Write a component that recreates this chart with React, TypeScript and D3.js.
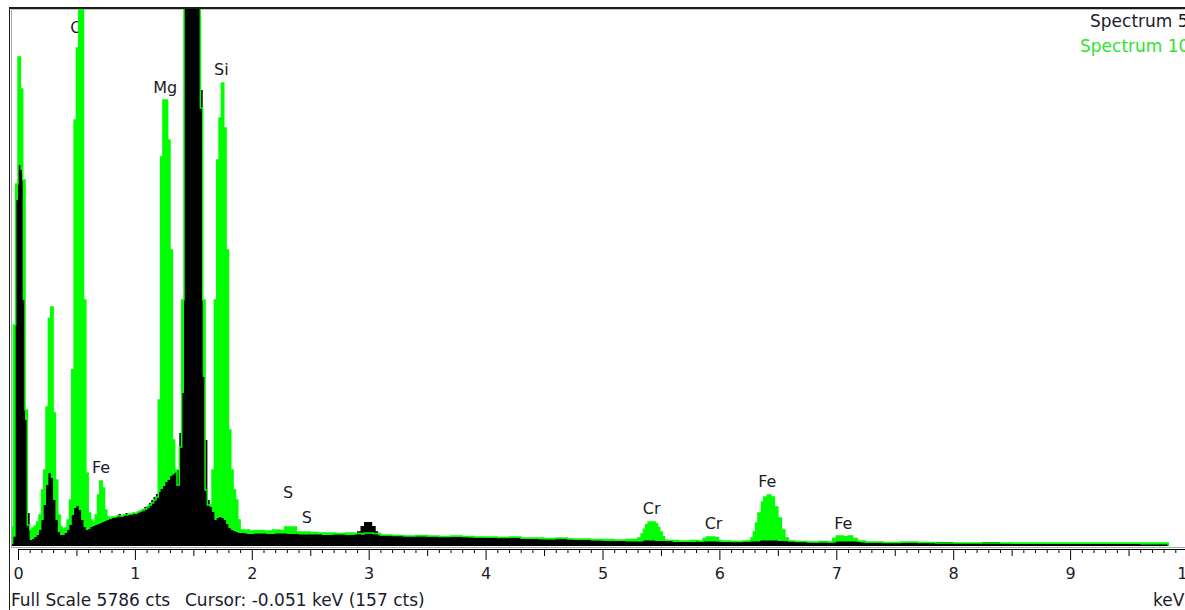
import React, { Component } from "react";
import * as d3 from "d3";

// [keV, counts] step data
const spectrum10: [number, number][] = [
  [-0.06, 205], [-0.04, 2381], [-0.02, 3900], [0, 5269], [0.02, 4924], [0.04, 3944], [0.06, 1465], [0.08, 226],
  [0.10, 172], [0.12, 194], [0.14, 215], [0.16, 259], [0.18, 334], [0.20, 603], [0.22, 819], [0.24, 1498],
  [0.26, 2450], [0.28, 2575], [0.30, 1433], [0.32, 711], [0.34, 334], [0.36, 205], [0.38, 172], [0.40, 194],
  [0.42, 280], [0.44, 496], [0.46, 1900], [0.48, 4590], [0.50, 5366], [0.52, 8000], [0.54, 7000], [0.56, 2650],
  [0.58, 787], [0.60, 356], [0.62, 280], [0.64, 248], [0.66, 334], [0.68, 550], [0.70, 700], [0.72, 625],
  [0.74, 388], [0.76, 312], [0.78, 302], [0.80, 312], [0.82, 312], [0.84, 323], [0.86, 323], [0.88, 323],
  [0.90, 334], [0.92, 334], [0.94, 345], [0.96, 345], [0.98, 356], [1.00, 356], [1.02, 366], [1.04, 377],
  [1.06, 388], [1.08, 399], [1.10, 420], [1.12, 442], [1.14, 463], [1.16, 496], [1.18, 528], [1.20, 1573],
  [1.22, 4191], [1.24, 4806], [1.26, 4806], [1.28, 4375], [1.30, 3189], [1.32, 1142], [1.34, 819], [1.36, 657],
  [1.38, 1067], [1.40, 2651], [1.42, 6500], [1.44, 7000], [1.46, 7500], [1.48, 7500], [1.50, 7500], [1.52, 7000],
  [1.54, 6500], [1.56, 4720], [1.58, 2651], [1.60, 603], [1.62, 442], [1.64, 442], [1.66, 819], [1.68, 2651],
  [1.70, 4159], [1.72, 4612], [1.74, 4989], [1.76, 4504], [1.78, 3189], [1.80, 1250], [1.82, 819], [1.84, 603],
  [1.86, 496], [1.88, 280], [1.90, 172], [1.92, 172], [1.94, 168], [1.96, 172], [1.98, 162], [2.00, 162],
  [2.02, 168], [2.10, 162], [2.18, 172], [2.24, 165], [2.28, 205], [2.38, 151], [2.50, 145], [2.56, 140],
  [2.64, 140], [2.72, 134], [2.80, 140], [2.88, 134], [2.94, 129], [2.96, 140], [3.04, 134], [3.10, 119],
  [3.20, 113], [3.30, 108], [3.40, 113], [3.50, 108], [3.60, 102], [3.70, 108], [3.80, 102], [3.90, 97],
  [4.00, 97], [4.10, 92], [4.20, 97], [4.30, 86], [4.40, 86], [4.50, 81], [4.60, 86], [4.70, 75],
  [4.80, 75], [4.90, 70], [5.00, 70], [5.10, 65], [5.20, 70], [5.30, 86], [5.33, 130], [5.35, 180],
  [5.37, 230], [5.39, 259], [5.43, 259], [5.45, 240], [5.47, 200], [5.49, 150], [5.51, 100], [5.53, 65],
  [5.55, 60], [5.65, 54], [5.75, 60], [5.82, 54], [5.86, 80], [5.89, 97], [5.96, 90], [5.99, 60],
  [6.02, 54], [6.10, 48], [6.20, 54], [6.26, 60], [6.27, 86], [6.29, 151], [6.31, 248], [6.33, 356],
  [6.36, 474], [6.38, 528], [6.41, 550], [6.44, 528], [6.47, 420], [6.50, 302], [6.53, 172], [6.56, 86],
  [6.59, 54], [6.65, 48], [6.75, 43], [6.85, 48], [6.93, 43], [6.97, 80], [7.00, 108], [7.06, 100],
  [7.10, 108], [7.14, 80], [7.18, 54], [7.25, 43], [7.40, 38], [7.55, 43], [7.70, 38], [7.85, 32],
  [8.00, 32], [8.30, 32], [8.60, 32], [8.90, 32], [9.20, 32], [9.50, 32], [9.84, 0]
];

const spectrum5: [number, number][] = [
  [-0.06, 20], [-0.04, 100], [-0.02, 3728], [0, 4105], [0.02, 4051], [0.04, 2651], [0.06, 1358], [0.08, 356],
  [0.10, 65], [0.12, 75], [0.14, 97], [0.16, 119], [0.18, 172], [0.20, 280], [0.22, 442], [0.24, 657],
  [0.26, 787], [0.28, 733], [0.30, 496], [0.32, 280], [0.34, 151], [0.36, 119], [0.38, 119], [0.40, 140],
  [0.42, 172], [0.44, 226], [0.46, 334], [0.48, 409], [0.50, 431], [0.52, 388], [0.54, 280], [0.56, 205],
  [0.58, 172], [0.60, 183], [0.62, 205], [0.64, 215], [0.66, 226], [0.68, 237], [0.70, 248], [0.72, 259],
  [0.74, 269], [0.76, 280], [0.78, 291], [0.80, 302], [0.82, 312], [0.84, 323], [0.86, 345], [0.88, 312],
  [0.90, 334], [0.92, 356], [0.94, 334], [0.96, 345], [0.98, 356], [1.00, 345], [1.02, 366], [1.04, 377],
  [1.06, 399], [1.08, 420], [1.10, 431], [1.12, 463], [1.14, 496], [1.16, 528], [1.18, 560], [1.20, 582],
  [1.22, 614], [1.24, 646], [1.26, 690], [1.28, 711], [1.30, 754], [1.32, 770], [1.34, 790], [1.36, 820],
  [1.38, 1218], [1.40, 1649], [1.42, 7000], [1.44, 8000], [1.46, 9000], [1.48, 9500], [1.50, 9000], [1.52, 8000],
  [1.54, 7000], [1.56, 4913], [1.58, 1821], [1.60, 1142], [1.62, 496], [1.64, 420], [1.66, 366], [1.68, 280],
  [1.70, 302], [1.72, 312], [1.74, 302], [1.76, 280], [1.78, 237], [1.80, 194], [1.82, 172], [1.84, 162],
  [1.86, 151], [1.88, 140], [1.90, 140], [1.92, 140], [1.94, 135], [1.96, 129], [1.98, 129], [2.00, 129],
  [2.02, 135], [2.12, 129], [2.20, 135], [2.30, 129], [2.40, 124], [2.50, 124], [2.60, 118], [2.70, 124],
  [2.80, 118], [2.88, 124], [2.90, 160], [2.93, 215], [2.96, 259], [3.00, 259], [3.03, 215], [3.06, 160],
  [3.08, 118], [3.10, 113], [3.25, 108], [3.40, 102], [3.55, 102], [3.70, 97], [3.85, 92], [4.00, 86],
  [4.15, 86], [4.30, 75], [4.45, 70], [4.60, 75], [4.75, 65], [4.90, 60], [5.00, 54], [5.20, 48],
  [5.35, 60], [5.45, 54], [5.60, 43], [5.80, 48], [6.00, 43], [6.20, 48], [6.35, 60], [6.50, 54],
  [6.65, 43], [6.80, 38], [7.00, 48], [7.20, 38], [7.40, 32], [7.60, 38], [7.75, 43], [8.00, 32],
  [8.25, 43], [8.40, 27], [8.50, 22], [8.80, 22], [9.20, 22], [9.60, 16], [9.84, 0]
];

const peakNames = ["O", "Fe", "Mg", "Si", "S", "S", "Cr", "Cr", "Fe", "Fe"];
const peakKeV = [0.5, 0.71, 1.26, 1.74, 2.31, 2.47, 5.42, 5.95, 6.41, 7.06];
const peakLabelCts = [5528, 787, 4881, 5075, 517, 248, 345, 183, 636, 183];

const legendNames = ["Spectrum 5", "Spectrum 10"];
const majorTicks = [0, 1, 2, 3, 4, 5, 6, 7, 8, 9, 10];
const fullScale = 5786;
const cursorText = "Cursor: -0.051 keV (157 cts)";

const FONT = "'DejaVu Sans', Verdana, sans-serif";

class App extends Component {
  componentDidMount() {
    const svg = d3.select("#eds");
    svg.selectAll("*").remove();

    const x = d3.scaleLinear().domain([0, 10]).range([18, 1187]);
    const y = d3.scaleLinear().domain([0, fullScale]).range([546, 9]);

    svg.append("rect").attr("width", 1185).attr("height", 610).attr("fill", "#fff");

    svg.append("defs").append("clipPath").attr("id", "plotclip")
      .append("rect").attr("x", 12).attr("y", 9).attr("width", 1173).attr("height", 537);

    // frame
    svg.append("rect").attr("x", 9).attr("y", 7).attr("width", 1176).attr("height", 2).attr("fill", "#1c1c1c");
    svg.append("rect").attr("x", 9).attr("y", 7).attr("width", 1).attr("height", 603).attr("fill", "#1c1c1c");
    svg.append("rect").attr("x", 11).attr("y", 9).attr("width", 1).attr("height", 538).attr("fill", "#a8a8a8");
    svg.append("rect").attr("x", 11).attr("y", 9).attr("width", 1174).attr("height", 1).attr("fill", "#c8c8c8");
    svg.append("rect").attr("x", 11).attr("y", 547).attr("width", 1174).attr("height", 1).attr("fill", "#a8a8a8");

    const plot = svg.append("g").attr("clip-path", "url(#plotclip)");

    // element labels sit behind the spectra
    plot.selectAll(".peak-label")
      .data(peakNames)
      .enter()
      .append("text")
      .attr("class", "peak-label")
      .attr("x", (d, i) => x(peakKeV[i]))
      .attr("y", (d, i) => y(peakLabelCts[i]))
      .attr("text-anchor", "middle")
      .style("font-family", FONT)
      .style("font-size", "16px")
      .style("fill", "#1b1b2b")
      .text(d => d);

    const area = d3.area<[number, number]>()
      .curve(d3.curveStepAfter)
      .x(d => x(d[0]))
      .y0(y(0))
      .y1(d => y(d[1]));

    const line = d3.line<[number, number]>()
      .curve(d3.curveStepAfter)
      .x(d => x(d[0]))
      .y(d => y(d[1]));

    plot.append("path").datum(spectrum10).attr("d", area).attr("fill", "#00ff00");
    plot.append("path").datum(spectrum5).attr("d", area).attr("fill", "#000");
    plot.append("path").datum(spectrum10).attr("d", line)
      .attr("fill", "none").attr("stroke", "#00ff00").attr("stroke-width", 1.5);

    // axis: minor, half and whole keV ticks
    const minorTicks = d3.range(0, 101).filter(i => i % 5 !== 0).map(i => i / 10);
    const halfTicks = d3.range(0, 10).map(i => i + 0.5);

    svg.append("g").attr("class", "x-minor")
      .attr("transform", "translate(0,549)")
      .call(d3.axisBottom(x).tickValues(minorTicks).tickSize(4).tickSizeOuter(0).tickFormat(() => ""));
    svg.append("g").attr("class", "x-half")
      .attr("transform", "translate(0,549)")
      .call(d3.axisBottom(x).tickValues(halfTicks).tickSize(7).tickSizeOuter(0).tickFormat(() => ""));
    const major = svg.append("g").attr("class", "x-axis")
      .attr("transform", "translate(0,549)")
      .call(d3.axisBottom(x).tickValues(majorTicks).tickSize(11).tickSizeOuter(0).tickPadding(8).tickFormat(d3.format("d")));
    svg.selectAll(".x-minor .domain, .x-half .domain").remove();
    major.select(".domain").attr("stroke", "#000").attr("d", `M${x(0)},0.5H1185`);
    svg.selectAll(".x-minor line, .x-half line, .x-axis line").attr("stroke", "#000");
    major.selectAll("text")
      .attr("fill", "#1b1b2b")
      .style("font-family", FONT)
      .style("font-size", "16px");

    // legend
    svg.selectAll(".legend")
      .data(legendNames)
      .enter()
      .append("text")
      .attr("class", "legend")
      .attr("x", (d, i) => (i === 0 ? 1090 : 1080))
      .attr("y", (d, i) => 27 + i * 25)
      .style("font-family", FONT)
      .style("font-size", "17px")
      .style("fill", (d, i) => (i === 0 ? "#1b1b2b" : "#2fe32f"))
      .text(d => d);

    // status line
    svg.append("text")
      .attr("x", 11).attr("y", 606)
      .style("font-family", FONT).style("font-size", "17px").style("fill", "#1b1b2b")
      .text(`Full Scale ${fullScale} cts`);
    svg.append("text")
      .attr("x", 185).attr("y", 606)
      .style("font-family", FONT).style("font-size", "17px").style("fill", "#1b1b2b")
      .text(cursorText);
    svg.append("text")
      .attr("x", 1153).attr("y", 606)
      .style("font-family", FONT).style("font-size", "17px").style("fill", "#1b1b2b")
      .text("keV");
  }

  render() {
    return (
      <svg id="eds" width="1185" height="610"
        style={{ position: "absolute", left: 0, top: 0, display: "block" }}>
      </svg>
    );
  }
}

export default App;
